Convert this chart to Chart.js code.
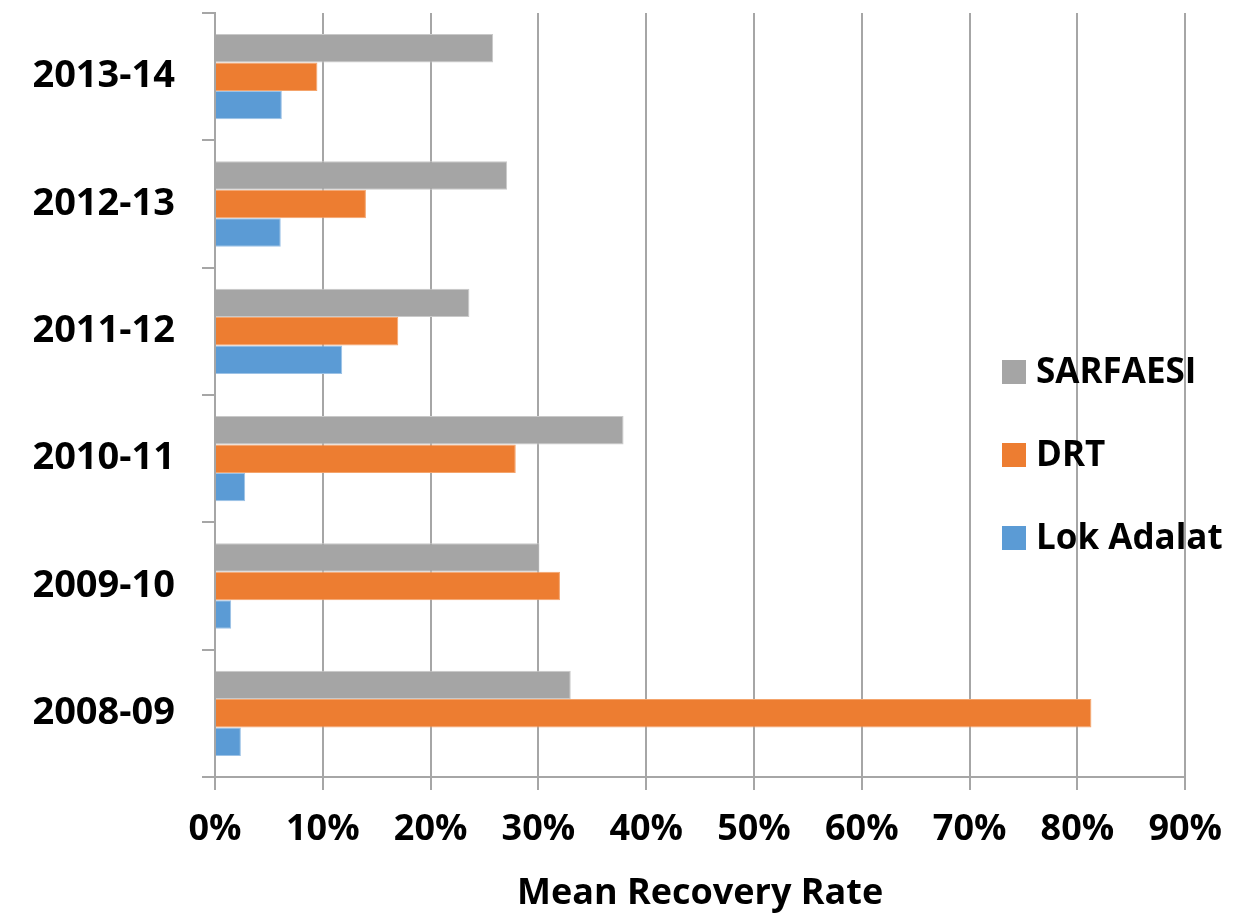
<!DOCTYPE html>
<html>
<head>
<meta charset="utf-8">
<title>Mean Recovery Rate</title>
<script src="https://cdn.jsdelivr.net/npm/chart.js@4.4.1/dist/chart.umd.min.js"></script>
<style>
    html, body { margin: 0; padding: 0; background: #fff; }
    #wrap { width: 1244px; height: 913px; }
</style>
</head>
<body>
<div id="wrap"><canvas id="recoveryChart" width="1244" height="913"></canvas></div>
<script>
// Mean recovery rate (%) by channel, years listed top to bottom
const years = ['2013-14', '2012-13', '2011-12', '2010-11', '2009-10', '2008-09'];
const sarfaesi = [25.8, 27.1, 23.6, 37.9, 30.1, 33.0];
const drt = [9.5, 14.0, 17.0, 27.9, 32.0, 81.3];
const lokAdalat = [6.2, 6.1, 11.8, 2.8, 1.5, 2.4];
const seriesNames = ['SARFAESI', 'DRT', 'Lok Adalat'];
const xTicks = [0, 10, 20, 30, 40, 50, 60, 70, 80, 90];

const FONT = '"Open Sans"';
const GRID = '#a6a6a6';

// legend drawn inside the plot, to the right of the bars
const insideLegend = {
    id: 'insideLegend',
    afterDatasetsDraw(chart, args, opts) {
        const ctx = chart.ctx;
        ctx.save();
        ctx.font = 'bold 35px ' + FONT;
        ctx.textBaseline = 'middle';
        chart.data.datasets.forEach((ds, i) => {
            const cy = opts.top + i * opts.spacing;
            ctx.fillStyle = ds.backgroundColor;
            ctx.fillRect(opts.left, cy - opts.box / 2, opts.box, opts.box);
            ctx.fillStyle = '#000';
            ctx.fillText(ds.label, opts.left + opts.box + opts.gap, cy + 1);
        });
        ctx.restore();
    }
};

function draw() {
    const ctx = document.getElementById('recoveryChart').getContext('2d');
    new Chart(ctx, {
        type: 'bar',
        data: {
            labels: years,
            datasets: [
                { label: seriesNames[0], data: sarfaesi, backgroundColor: '#a5a5a5', borderColor: '#c9c9c9' },
                { label: seriesNames[1], data: drt, backgroundColor: '#ed7d31', borderColor: '#f4a46c' },
                { label: seriesNames[2], data: lokAdalat, backgroundColor: '#5b9bd5', borderColor: '#9cc2e6' }
            ]
        },
        options: {
            indexAxis: 'y',
            responsive: false,
            animation: false,
            devicePixelRatio: 1,
            datasets: {
                bar: { categoryPercentage: 0.67, barPercentage: 1, borderWidth: 1 }
            },
            layout: { padding: { top: 13, right: 58, left: 0, bottom: 0 } },
            plugins: {
                legend: { display: false },
                tooltip: { enabled: false },
                insideLegend: { left: 1002, top: 372, spacing: 83, box: 24, gap: 10 }
            },
            scales: {
                x: {
                    min: 0,
                    max: 90,
                    afterBuildTicks: scale => { scale.ticks = xTicks.map(v => ({ value: v })); },
                    afterFit: scale => { scale.height = 136; },
                    ticks: {
                        color: '#000',
                        padding: 22,
                        font: { family: FONT, size: 36, weight: 'bold', lineHeight: 1 },
                        callback: v => v + '%'
                    },
                    grid: { color: GRID, lineWidth: 2, tickLength: 13 },
                    border: { color: GRID, width: 2 },
                    title: {
                        display: true,
                        text: 'Mean Recovery Rate',
                        color: '#000',
                        font: { family: FONT, size: 36, weight: 'bold', lineHeight: 1 },
                        padding: { top: 0, bottom: 1 }
                    }
                },
                y: {
                    afterFit: scale => {
                        scale.width = 215;
                        scale.paddingTop = 0;
                        scale.paddingBottom = 0;
                    },
                    ticks: {
                        color: '#000',
                        padding: 27,
                        font: { family: FONT, size: 38, weight: 'bold' }
                    },
                    grid: { drawOnChartArea: false, color: GRID, lineWidth: 2, tickLength: 13 },
                    border: { color: GRID, width: 2 }
                }
            }
        },
        plugins: [insideLegend]
    });
}

document.fonts.load('bold 36px ' + FONT).then(draw, draw);
</script>
</body>
</html>
